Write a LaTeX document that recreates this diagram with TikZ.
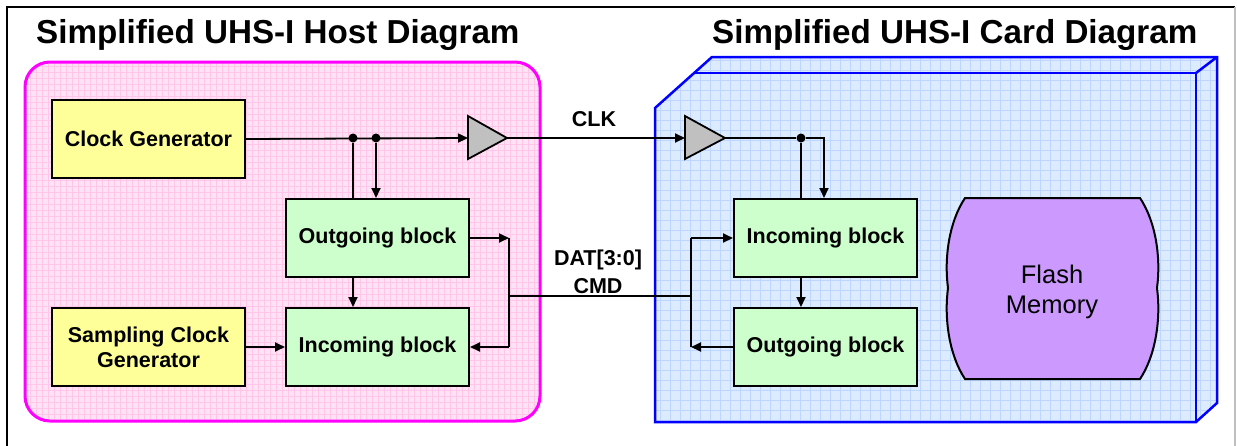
\documentclass[tikz,border=0pt]{standalone}
\usepackage{fontspec}
\setmainfont{Liberation Sans}
\usetikzlibrary{arrows.meta}

\definecolor{hostpink}{RGB}{255,226,244}
\definecolor{hostgrid}{RGB}{255,198,233}
\definecolor{hostedge}{RGB}{255,0,255}
\definecolor{cardblue}{RGB}{220,235,255}
\definecolor{cardgrid}{RGB}{188,214,255}
\definecolor{cardedge}{RGB}{0,0,255}
\definecolor{genyellow}{RGB}{255,255,153}
\definecolor{blockgreen}{RGB}{204,255,204}
\definecolor{flashpurple}{RGB}{204,153,255}
\definecolor{bufgray}{RGB}{192,192,192}

\tikzset{
  genbox/.style={draw, line width=2pt, fill=genyellow, minimum width=193pt, minimum height=78pt,
    inner sep=0pt, align=center, font=\fontsize{21.5}{25}\selectfont\bfseries},
  blockbox/.style={genbox, fill=blockgreen, minimum width=183pt},
  wire/.style={line width=1.8pt},
  sig/.style={wire, -{Triangle[length=10pt,width=9pt]}},
  dot/.style={circle, fill, inner sep=0pt, minimum size=9pt},
  buffer/.style={draw, line width=1.8pt, fill=bufgray, line join=miter},
  titletext/.style={inner sep=0pt, font=\fontsize{33.2}{38}\selectfont\bfseries},
  sigtext/.style={inner sep=0pt, align=center, font=\fontsize{21.5}{28}\selectfont\bfseries}
}

\newcommand{\cardoutline}{(655,108) -- (712,57) -- (1217,57) -- (1217,403) -- (1196,422) -- (655,422) -- cycle}
\newcommand{\flashoutline}{(965,198) -- (1140,198) .. controls (1156,222) and (1161,258) .. (1157,288)
  .. controls (1161,318) and (1156,355) .. (1140,379) -- (965,379)
  .. controls (949,355) and (944,318) .. (948,288) .. controls (944,258) and (949,222) .. (965,198) -- cycle}

\begin{document}
\begin{tikzpicture}[x=1pt, y=-1pt]
  \useasboundingbox (0,0) rectangle (1237,445);
  % outer frame
  \draw[line width=2pt] (7,450) -- (7,7) -- (1235,7);
  \draw[gray!50, line width=1.5pt] (1235,7) -- (1235,450);

  % host board
  \fill[hostpink, rounded corners=25pt] (25,62) rectangle (540,421);
  \begin{scope}
    \clip[rounded corners=25pt] (25,62) rectangle (540,421);
    \draw[hostgrid, line width=0.8pt, step=6pt] (20,55) grid (545,425);
  \end{scope}
  \draw[hostedge, line width=3pt, rounded corners=25pt] (25,62) rectangle (540,421);

  % card body
  \fill[cardblue] \cardoutline;
  \begin{scope}
    \clip \cardoutline;
    \draw[cardgrid, line width=1pt, step=10pt] (650,50) grid (1225,430);
  \end{scope}
  \draw[cardedge, line width=2.5pt, line join=miter] \cardoutline;
  \draw[cardedge, line width=2.5pt] (694,73) -- (1196,73) -- (1196,422);
  \draw[cardedge, line width=2.5pt] (1196,73) -- (1217,57);

  % titles
  \node[titletext, anchor=base west] (hosttitle) at (36,43) {Simplified UHS-I Host Diagram};
  \node[titletext, anchor=base west] (cardtitle) at (712,43) {Simplified UHS-I Card Diagram};

  % host blocks
  \node[genbox, anchor=north west] (clkgen) at (51,99) {Clock Generator};
  \node[genbox, anchor=north west] (sampgen) at (51,307) {Sampling Clock\\Generator};
  \node[blockbox, anchor=north west] (hout) at (285,198) {Outgoing block};
  \node[blockbox, anchor=north west] (hin) at (285,307) {Incoming block};

  % card blocks
  \node[blockbox, anchor=north west] (cin) at (733,198) {Incoming block};
  \node[blockbox, anchor=north west] (cout) at (733,307) {Outgoing block};
  \draw[line width=2pt, fill=flashpurple] \flashoutline;
  \node[inner sep=0pt, align=center, font=\fontsize{25.5}{30}\selectfont] (flash) at (1052,292) {Flash\\Memory};

  % buffers
  \draw[buffer] (468,116) -- (507,138) -- (468,159) -- cycle;
  \draw[buffer] (685,116) -- (725,138) -- (685,159) -- cycle;
  \coordinate (hbufin) at (468,138);
  \coordinate (hbufout) at (507,138);
  \coordinate (cbufin) at (685,138);
  \coordinate (cbufout) at (725,138);

  % clock path
  \node[dot] (hj1) at (353,138) {};
  \node[dot] (hj2) at (376,138) {};
  \node[dot] (cj1) at (801,138) {};
  \coordinate (cclk) at (824,138);
  \draw[sig] (clkgen.east) -- (hbufin);
  \draw[wire] (hj1) -- (hj1 |- hout.north);
  \draw[sig] (hj2) -- (hj2 |- hout.north);
  \draw[sig] (hbufout) -- (cbufin);
  \draw[wire] (cbufout) -- (cj1);
  \draw[wire] (cj1) -- (cj1 |- cin.north);
  \draw[sig] (cj1) -- (cclk) -- (cclk |- cin.north);
  \node[sigtext] (clklabel) at (594,119) {CLK};

  % host data path
  \coordinate (hbus) at (509,296);
  \coordinate (cbus) at (691,296);
  \draw[sig] (hj1 |- hout.south) -- (hj1 |- hin.north);
  \draw[sig] (sampgen.east) -- (hin.west);
  \draw[sig] (hout.east) -- (hout.east -| hbus);
  \draw[wire] (hout.east -| hbus) -- (hin.east -| hbus);
  \draw[sig] (hin.east -| hbus) -- (hin.east);
  \draw[wire] (hbus) -- (cbus);
  \node[sigtext] (datlabel) at (598,272) {DAT[3:0]\\CMD};

  % card data path
  \draw[wire] (cin.west -| cbus) -- (cout.west -| cbus);
  \draw[sig] (cin.west -| cbus) -- (cin.west);
  \draw[sig] (cout.west) -- (cout.west -| cbus);
  \draw[sig] (cj1 |- cin.south) -- (cj1 |- cout.north);
\end{tikzpicture}
\end{document}
